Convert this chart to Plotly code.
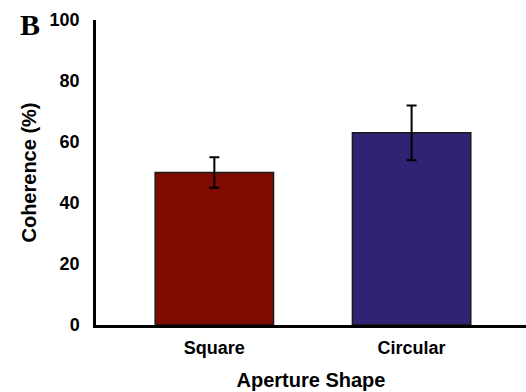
import plotly.graph_objects as go

categories = ["Square", "Circular"]
coherence = [50, 63]
sem = [5, 9]
bar_colors = ["#7F0B00", "#2F2373"]
y_ticks = [0, 20, 40, 60, 80, 100]

W, H = 526, 392
L, R, T, B = 96, 0, 20, 67

fig = go.Figure()
fig.add_trace(go.Bar(
    x=[0, 1],
    y=coherence,
    width=0.6,
    marker=dict(color=bar_colors, line=dict(color="#1a1a1a", width=1.5)),
    error_y=dict(type="data", array=sem, visible=True, color="black",
                 thickness=2, width=5),
))

sans = "Liberation Sans, Arial, sans-serif"
fig.update_layout(
    width=W, height=H,
    margin=dict(l=L, r=R, t=T, b=B),
    plot_bgcolor="white", paper_bgcolor="white",
    showlegend=False,
    font=dict(family=sans, size=18, color="black"),
    xaxis=dict(
        range=[-0.6, 1.58],
        tickmode="array", tickvals=[0, 1],
        ticktext=[f"<b>{c}</b>" for c in categories],
        showline=True, linecolor="black", linewidth=3,
        showgrid=False, zeroline=False,
        ticks="outside", ticklen=4, tickcolor="rgba(0,0,0,0)",
        tickfont=dict(size=18, family=sans),
        title=dict(text="<b>Aperture Shape</b>", font=dict(size=20, family=sans), standoff=17),
    ),
    yaxis=dict(
        range=[0, 100],
        tickvals=y_ticks,
        ticktext=[f"<b>{v}</b>" for v in y_ticks],
        showline=True, linecolor="black", linewidth=2.5,
        showgrid=False, zeroline=False,
        ticks="outside", ticklen=10, tickcolor="rgba(0,0,0,0)",
        tickfont=dict(size=18, family=sans),
        title=dict(text="<b>Coherence (%)</b>", font=dict(size=20, family=sans), standoff=8),
    ),
)

# panel letter
pw, ph = W - L - R, H - T - B
fig.add_annotation(
    text="<b>B</b>", xref="paper", yref="paper",
    x=(30 - L) / pw, y=(H - B - 24.5) / ph,
    xanchor="center", yanchor="middle", showarrow=False,
    font=dict(family="Liberation Serif, Times New Roman, serif", size=30, color="black"),
)

fig.write_html("out.html")
